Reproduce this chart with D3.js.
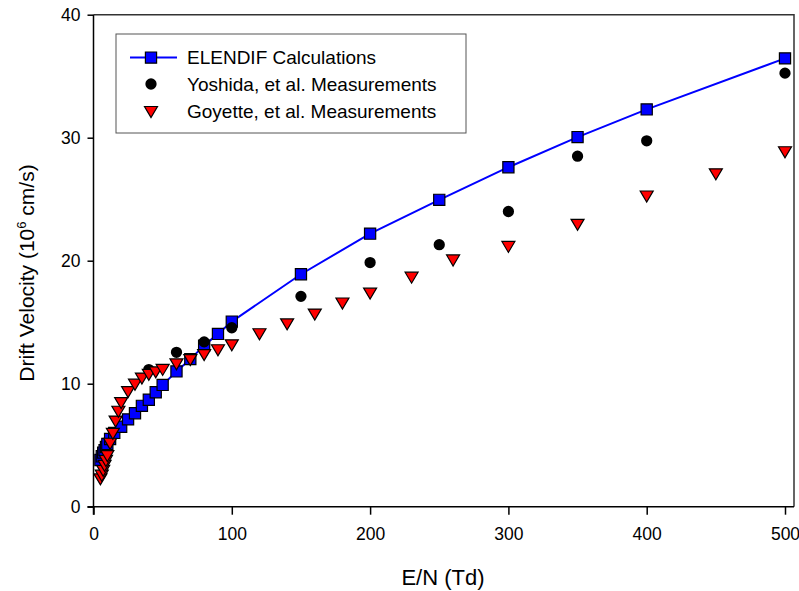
<!DOCTYPE html>
<html>
<head>
<meta charset="utf-8">
<script src="https://cdn.jsdelivr.net/npm/d3@7"></script>
<style>
    body { margin: 0; background: #ffffff; }
    text { font-family: "Liberation Sans", Arial, sans-serif; fill: #000000; }
</style>
</head>
<body>
<svg id="canvas"></svg>
<script>
// ELENDIF calculated drift velocity (10^6 cm/s) vs E/N (Td)
let elendifEN = [5, 6, 7, 8, 9, 10, 12, 15, 20, 25, 30, 35, 40, 45, 50, 60, 70, 80, 90, 100, 150, 200, 250, 300, 350, 400, 500]
let elendifV = [3.8, 4.1, 4.4, 4.6, 4.85, 5.1, 5.5, 6.0, 6.5, 7.1, 7.6, 8.2, 8.7, 9.3, 9.9, 11.0, 12.0, 13.1, 14.05, 15.05, 18.9, 22.2, 24.95, 27.6, 30.05, 32.3, 36.45]

// Yoshida, et al.
let yoshidaEN = [40, 60, 80, 100, 150, 200, 250, 300, 350, 400, 500]
let yoshidaV = [11.15, 12.55, 13.4, 14.55, 17.1, 19.85, 21.3, 24.0, 28.5, 29.75, 35.25]

// Goyette, et al.
let goyetteEN = [5, 6, 7, 8, 9, 10, 12, 14, 16, 18, 20, 25, 30, 35, 40, 45, 50, 60, 70, 80, 90, 100, 120, 140, 160, 180, 200, 230, 260, 300, 350, 400, 450, 500]
let goyetteV = [2.3, 2.6, 3.0, 3.4, 3.8, 4.2, 5.2, 6.0, 7.0, 7.8, 8.5, 9.4, 10.0, 10.5, 10.8, 11.0, 11.2, 11.65, 12.0, 12.4, 12.8, 13.2, 14.1, 14.9, 15.7, 16.6, 17.4, 18.7, 20.1, 21.2, 23.0, 25.3, 27.1, 28.9]

let xTicks = [0, 100, 200, 300, 400, 500]
let yTicks = [0, 10, 20, 30, 40]
let legendLabels = ["ELENDIF Calculations", "Yoshida, et al. Measurements", "Goyette, et al. Measurements"]

let width = 799
let height = 591
let plotLeft = 93.5
let plotTop = 14.7
let plotBottom = 506.7
let frameRight = 794

let canvas = d3.select("#canvas")
                .attr("width", width)
                .attr("height", height)

let xScale = d3.scaleLinear()
                .domain([0, 500])
                .range([plotLeft, 785])

let yScale = d3.scaleLinear()
                .domain([0, 40])
                .range([plotBottom, plotTop])

let zip = (xs, ys) => xs.map((d, i) => ({ x: d, y: ys[i] }))

let elendif = zip(elendifEN, elendifV)
let yoshida = zip(yoshidaEN, yoshidaV)
let goyette = zip(goyetteEN, goyetteV)

let square = d3.symbol().type(d3.symbolSquare).size(125)
let circle = d3.symbol().type(d3.symbolCircle).size(100)
let triangle = "M-6.5,-4.5L6.5,-4.5L0,6.5Z"

// frame (top and right)
canvas.append("path")
        .attr("d", "M" + plotLeft + "," + plotTop + "H" + frameRight + "V" + plotBottom)
        .attr("fill", "none")
        .attr("stroke", "#333333")
        .attr("stroke-width", 1.5)

// axes
let xAxis = d3.axisBottom(xScale)
                .tickValues(xTicks)
                .tickSizeInner(8)
                .tickSizeOuter(0)
                .tickPadding(13)

canvas.append("g")
        .attr("transform", "translate(0," + plotBottom + ")")
        .call(xAxis)
        .call(g => g.select(".domain").attr("d", "M" + (plotLeft - 6) + ",0H" + frameRight))

let yAxis = d3.axisLeft(yScale)
                .tickValues(yTicks)
                .tickSizeInner(6)
                .tickSizeOuter(0)
                .tickPadding(7)

canvas.append("g")
        .attr("transform", "translate(" + plotLeft + ",0)")
        .call(yAxis)
        .call(g => g.select(".domain").attr("d", "M0," + plotTop + "V" + (plotBottom + 8)))

canvas.selectAll(".domain, .tick line")
        .attr("stroke", "#000000")
        .attr("stroke-width", 1.5)

canvas.selectAll(".tick text")
        .style("font-size", "17.5px")
        .style("font-family", "'Liberation Sans', Arial, sans-serif")

// axis titles
canvas.append("text")
        .attr("x", 443)
        .attr("y", 585)
        .attr("text-anchor", "middle")
        .style("font-size", "22px")
        .text("E/N (Td)")

let yTitle = canvas.append("text")
        .attr("transform", "translate(34,273) rotate(-90)")
        .attr("text-anchor", "middle")
        .style("font-size", "21px")
yTitle.append("tspan").text("Drift Velocity (10")
yTitle.append("tspan").attr("dy", -8).style("font-size", "13px").text("6")
yTitle.append("tspan").attr("dy", 8).text(" cm/s)")

// ELENDIF line + squares
let line = d3.line()
                .x(d => xScale(d.x))
                .y(d => yScale(d.y))

canvas.append("path")
        .datum(elendif)
        .attr("d", line)
        .attr("fill", "none")
        .attr("stroke", "#0000ff")
        .attr("stroke-width", 2)

canvas.selectAll(".sq")
        .data(elendif)
        .enter()
        .append("path")
        .attr("class", "sq")
        .attr("d", square)
        .attr("transform", d => "translate(" + xScale(d.x) + "," + yScale(d.y) + ")")
        .attr("fill", "#0000ff")
        .attr("stroke", "#000000")
        .attr("stroke-width", 1.2)

canvas.selectAll(".ci")
        .data(yoshida)
        .enter()
        .append("path")
        .attr("class", "ci")
        .attr("d", circle)
        .attr("transform", d => "translate(" + xScale(d.x) + "," + yScale(d.y) + ")")
        .attr("fill", "#000000")

canvas.selectAll(".tr")
        .data(goyette)
        .enter()
        .append("path")
        .attr("class", "tr")
        .attr("d", triangle)
        .attr("transform", d => "translate(" + xScale(d.x) + "," + yScale(d.y) + ")")
        .attr("fill", "#ff0000")
        .attr("stroke", "#000000")
        .attr("stroke-width", 1.2)

// legend
let legend = canvas.append("g")

legend.append("rect")
        .attr("x", 116)
        .attr("y", 34)
        .attr("width", 350)
        .attr("height", 99)
        .attr("fill", "#ffffff")
        .attr("stroke", "#555555")
        .attr("stroke-width", 1)

let rowY = [57.6, 84, 111]

legend.append("line")
        .attr("x1", 130)
        .attr("x2", 177)
        .attr("y1", rowY[0])
        .attr("y2", rowY[0])
        .attr("stroke", "#0000ff")
        .attr("stroke-width", 2)

legend.append("path")
        .attr("d", square)
        .attr("transform", "translate(151," + rowY[0] + ")")
        .attr("fill", "#0000ff")
        .attr("stroke", "#000000")
        .attr("stroke-width", 1.2)

legend.append("path")
        .attr("d", circle)
        .attr("transform", "translate(151," + rowY[1] + ")")
        .attr("fill", "#000000")

legend.append("path")
        .attr("d", triangle)
        .attr("transform", "translate(151," + rowY[2] + ")")
        .attr("fill", "#ff0000")
        .attr("stroke", "#000000")
        .attr("stroke-width", 1.2)

legend.selectAll(".lab")
        .data(legendLabels)
        .enter()
        .append("text")
        .attr("class", "lab")
        .attr("x", 187)
        .attr("y", (d, i) => rowY[i] + 6.5)
        .style("font-size", "19px")
        .text(d => d)
</script>
</body>
</html>
